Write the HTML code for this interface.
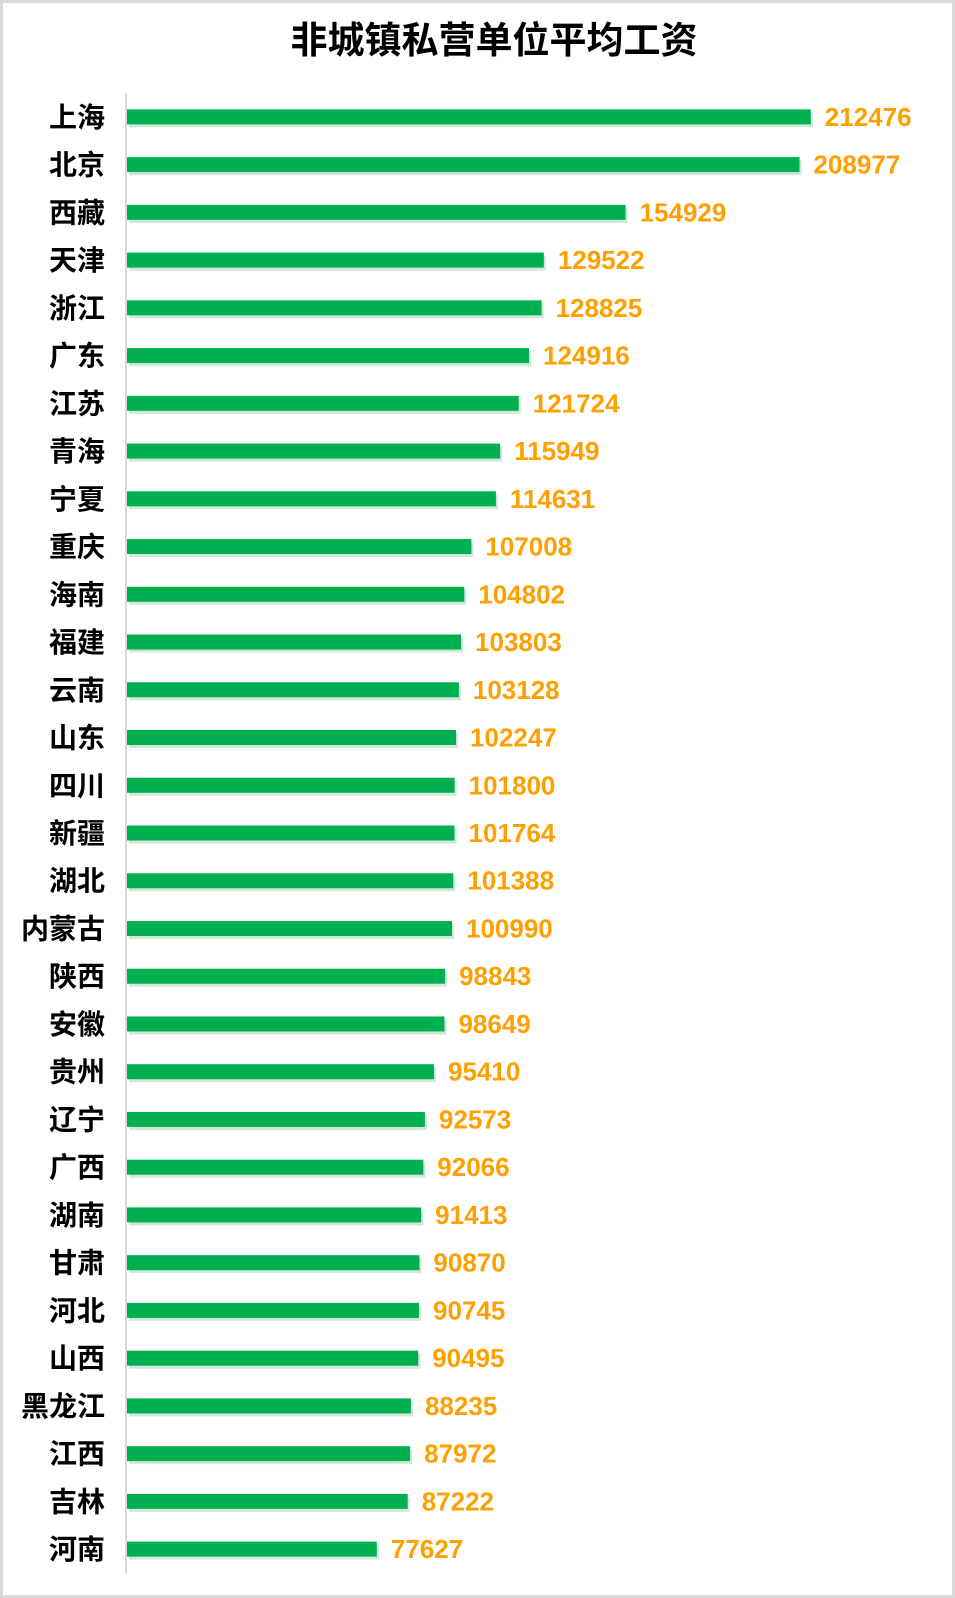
<!DOCTYPE html>
<html><head><meta charset="utf-8"><style>
html,body{margin:0;padding:0;background:#fff;}
body{width:955px;height:1598px;overflow:hidden;}
#frame{position:absolute;left:0;top:0;width:949px;height:1592px;border:3px solid #d9d9d9;background:#fff;}
svg{position:absolute;left:0;top:0;}
.cat{font-family:"Liberation Sans","Noto Sans CJK SC",sans-serif;font-weight:bold;font-size:28px;fill:#000;}
.val{font-family:"Liberation Sans",sans-serif;font-weight:bold;font-size:26px;fill:#FFA000;}
.title{font-family:"Liberation Sans","Noto Sans CJK SC",sans-serif;font-weight:bold;font-size:37px;fill:#000;}
</style></head><body>
<div id="frame"></div>
<svg id="chart" width="955" height="1598">
<text class="title" x="494" y="53" text-anchor="middle">非城镇私营单位平均工资</text>
<line x1="126" y1="93" x2="126" y2="1573" stroke="#d9d9d9" stroke-width="2"/>
<g id="bars"></g>
</svg>
<script>
const categories=["上海","北京","西藏","天津","浙江","广东","江苏","青海","宁夏","重庆","海南","福建","云南","山东","四川","新疆","湖北","内蒙古","陕西","安徽","贵州","辽宁","广西","湖南","甘肃","河北","山西","黑龙江","江西","吉林","河南"];
const values=[212476,208977,154929,129522,128825,124916,121724,115949,114631,107008,104802,103803,103128,102247,101800,101764,101388,100990,98843,98649,95410,92573,92066,91413,90870,90745,90495,88235,87972,87222,77627];
const xMax=220000;
const x0=127, plotW=708, yTop=93, yBottom=1573, barH=15;
const step=(yBottom-yTop)/categories.length;
function xScale(v){return x0+v/xMax*plotW;}
function yCenter(i){return yTop+step*(i+0.5);}
const ns="http://www.w3.org/2000/svg";
const g=document.getElementById('bars');
categories.forEach((c,i)=>{
  const cy=yCenter(i);
  const sh=document.createElementNS(ns,'rect');
  sh.setAttribute('x',x0+2);sh.setAttribute('y',cy-barH/2+3);
  sh.setAttribute('width',xScale(values[i])-x0);sh.setAttribute('height',barH);
  sh.setAttribute('fill','rgba(0,120,40,0.18)');
  
  
  g.appendChild(sh);
  const r=document.createElementNS(ns,'rect');
  r.setAttribute('x',x0);r.setAttribute('y',cy-barH/2);
  r.setAttribute('width',xScale(values[i])-x0);r.setAttribute('height',barH);
  r.setAttribute('fill','#00B050');
  
  
  g.appendChild(r);
  const t=document.createElementNS(ns,'text');
  t.setAttribute('class','cat');t.setAttribute('x',105);t.setAttribute('y',cy+10);
  t.setAttribute('text-anchor','end');t.textContent=c;
  
  
  g.appendChild(t);
  const v=document.createElementNS(ns,'text');
  v.setAttribute('class','val');v.setAttribute('x',xScale(values[i])+14);v.setAttribute('y',cy+9);
  v.textContent=values[i];
  
  
  g.appendChild(v);
});
</script>
</body></html>
